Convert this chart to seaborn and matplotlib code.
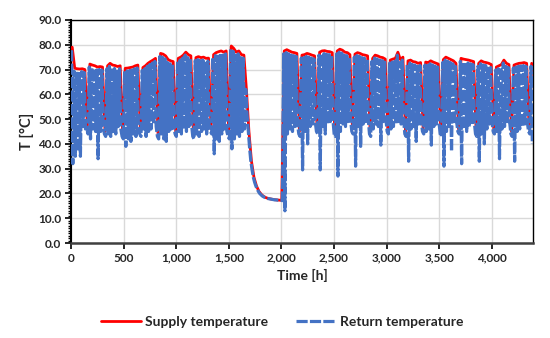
import matplotlib
matplotlib.use("Agg")
import matplotlib.pyplot as plt
from matplotlib.ticker import MultipleLocator, FuncFormatter
import seaborn as sns
import pandas as pd

# Supply temperature, one value per day (°C)
supply_daily = [
    79.0, 70.5, 70.3, 70.2, 70.3, 70.0, 47.0,
    72.2, 71.8, 71.5, 71.0, 71.2, 71.0, 45.0,
    71.5, 72.5, 71.8, 71.6, 71.2, 71.5, 44.0,
    70.5, 70.6, 70.8, 71.0, 71.5, 71.8, 45.0,
    70.8, 71.5, 72.5, 73.2, 73.8, 74.5, 44.0,
    76.5, 76.2, 75.5, 74.0, 73.5, 73.2, 45.0,
    74.5, 75.0, 75.8, 77.0, 76.0, 75.5, 44.0,
    74.8, 75.2, 74.8, 75.0, 74.5, 74.6, 46.0,
    76.0, 76.8, 77.2, 77.5, 77.0, 77.5, 44.0,
    79.5, 78.5, 77.0, 77.5, 76.0, 75.8,
    62.0, 45.0, 33.0, 26.5, 23.0, 20.8, 19.5, 18.7, 18.2, 17.9, 17.7, 17.5, 17.4, 17.3, 17.2,
    77.5, 78.0, 77.5, 77.0, 76.8, 76.5, 45.0,
    75.8, 76.0, 76.5, 76.2, 75.8, 75.5, 46.0,
    77.0, 77.5, 77.6, 77.3, 77.2, 76.8, 45.0,
    77.5, 78.2, 77.8, 77.0, 76.8, 76.0, 46.0,
    76.2, 76.8, 76.5, 76.0, 75.8, 75.5, 45.0,
    74.5, 75.8, 75.5, 75.0, 74.8, 74.2, 46.0,
    73.8, 74.2, 74.5, 77.0, 74.0, 75.0, 45.0,
    73.5, 73.8, 73.2, 73.0, 72.5, 72.8, 46.0,
    73.0, 72.8, 73.5, 73.0, 72.6, 72.2, 45.0,
    74.0, 75.0, 74.5, 74.0, 73.5, 72.5, 46.0,
    74.5, 74.2, 74.0, 73.8, 73.5, 73.2, 45.0,
    72.5, 73.5, 73.0, 72.8, 72.5, 72.0, 46.0,
    71.0, 71.5, 72.0, 73.8, 72.5, 72.0, 45.0,
    71.8, 72.2, 72.5, 72.6, 72.8, 72.5, 46.0,
    72.5,
]

# Return temperature, daily maximum (°C)
return_max = [
    77.8, 69.3, 69.1, 69.0, 69.1, 68.8, 46.0,
    71.0, 70.6, 70.3, 69.8, 70.0, 69.8, 44.0,
    70.3, 71.3, 70.6, 70.4, 70.0, 70.3, 43.0,
    69.3, 69.4, 69.6, 69.8, 70.3, 70.6, 44.0,
    69.6, 70.3, 71.3, 72.0, 72.6, 73.3, 43.0,
    75.3, 75.0, 74.3, 72.8, 72.3, 72.0, 44.0,
    73.3, 73.8, 74.6, 75.8, 74.8, 74.3, 43.0,
    73.6, 74.0, 73.6, 73.8, 73.3, 73.4, 45.0,
    74.8, 75.6, 76.0, 76.3, 75.8, 76.3, 43.0,
    78.3, 77.3, 75.8, 76.3, 74.8, 74.6,
    62.0, 45.0, 33.0, 26.5, 23.0, 20.8, 19.5, 18.7, 18.2, 17.9, 17.7, 17.5, 17.4, 17.3, 17.2,
    76.3, 76.8, 76.3, 75.8, 75.6, 75.3, 44.0,
    74.6, 74.8, 75.3, 75.0, 74.6, 74.3, 45.0,
    75.8, 76.3, 76.4, 76.1, 76.0, 75.6, 44.0,
    76.3, 77.0, 76.6, 75.8, 75.6, 74.8, 45.0,
    75.0, 75.6, 75.3, 74.8, 74.6, 74.3, 44.0,
    73.3, 74.6, 74.3, 73.8, 73.6, 73.0, 45.0,
    72.6, 73.0, 73.3, 75.8, 72.8, 73.8, 44.0,
    72.3, 72.6, 72.0, 71.8, 71.3, 71.6, 45.0,
    71.8, 71.6, 72.3, 71.8, 71.4, 71.0, 44.0,
    72.8, 73.8, 73.3, 72.8, 72.3, 71.3, 45.0,
    73.3, 73.0, 72.8, 72.6, 72.3, 72.0, 44.0,
    71.3, 72.3, 71.8, 71.6, 71.3, 70.8, 45.0,
    69.8, 70.3, 70.8, 72.6, 71.3, 70.8, 44.0,
    70.6, 71.0, 71.3, 71.4, 71.6, 71.3, 45.0,
    71.3,
]

# Return temperature, daily minimum (°C)
return_min = [
    32.0, 35.0, 37.0, 35.0, 47.0, 46.0, 44.0,
    42.0, 46.0, 45.0, 34.0, 45.0, 47.0, 43.0,
    44.0, 43.0, 45.0, 44.0, 47.0, 46.0, 42.0,
    39.0, 42.0, 41.0, 44.0, 43.0, 45.0, 43.0,
    46.0, 43.0, 45.0, 46.0, 48.0, 47.0, 42.0,
    44.0, 42.0, 41.0, 45.0, 46.0, 47.0, 43.0,
    45.0, 44.0, 46.0, 45.0, 47.0, 48.0, 42.0,
    44.0, 43.0, 45.0, 46.0, 44.0, 47.0, 44.0,
    36.0, 42.0, 41.0, 44.0, 46.0, 45.0, 42.0,
    38.0, 42.0, 44.0, 43.0, 45.0, 46.0,
    52.0, 38.5, 29.5, 24.5, 21.8, 20.0, 19.0, 18.4, 18.0, 17.8, 17.6, 17.4, 17.3, 17.2, 17.1,
    13.0, 44.0, 46.0, 45.0, 47.0, 48.0, 43.0,
    29.5, 45.0, 40.0, 47.0, 48.0, 49.0, 44.0,
    29.5, 47.0, 44.0, 48.0, 49.0, 50.0, 43.0,
    27.0, 45.0, 48.0, 47.0, 49.0, 50.0, 44.0,
    31.0, 47.0, 39.0, 48.0, 49.0, 50.0, 43.0,
    46.0, 48.0, 47.0, 39.5, 49.0, 50.0, 44.0,
    46.0, 47.0, 48.0, 49.0, 48.0, 50.0, 43.0,
    33.0, 46.0, 47.0, 41.0, 48.0, 49.0, 44.0,
    45.0, 46.0, 39.5, 47.0, 48.0, 49.0, 43.0,
    31.0, 45.0, 47.0, 37.0, 48.0, 49.0, 44.0,
    32.0, 46.0, 45.0, 47.0, 48.0, 49.0, 43.0,
    33.0, 44.0, 40.0, 46.0, 48.0, 49.0, 44.0,
    45.0, 34.0, 46.0, 47.0, 48.0, 49.0, 43.0,
    33.0, 45.0, 46.0, 47.0, 48.0, 49.0, 44.0,
    40.0,
]

# build long tables: supply at mid-day, return peak in the morning, trough in the afternoon
days = range(len(supply_daily))
df_supply = pd.DataFrame({"hour": [24 * d + 12 for d in days], "T": supply_daily})
ret_hours, ret_vals = [], []
for d in days:
    ret_hours += [24 * d + 6, 24 * d + 18]
    ret_vals += [return_max[d], return_min[d]]
df_return = pd.DataFrame({"hour": ret_hours, "T": ret_vals})

sns.set_style("white")
plt.rcParams["font.family"] = ["Lato", "DejaVu Sans"]
plt.rcParams["font.weight"] = "bold"

fig = plt.figure(figsize=(5.5, 3.38), dpi=100)
ax = fig.add_axes([0.129, 0.281, 0.840, 0.660])

sns.lineplot(data=df_supply, x="hour", y="T", ax=ax, color="#FF0000", lw=2.0,
             label="Supply temperature", zorder=3)
sns.lineplot(data=df_return, x="hour", y="T", ax=ax, color="#4472C4", lw=2.3,
             linestyle=(0, (3.5, 0.7)), label="Return temperature", zorder=4)

ax.set_xlim(0, 4392)
ax.set_ylim(0, 90)
ax.xaxis.set_major_locator(MultipleLocator(500))
ax.yaxis.set_major_locator(MultipleLocator(10))
ax.yaxis.set_minor_locator(MultipleLocator(1))
ax.xaxis.set_major_formatter(FuncFormatter(lambda v, p: f"{int(v):,}"))
ax.yaxis.set_major_formatter(FuncFormatter(lambda v, p: f"{v:.1f}"))
ax.grid(True, which="major", color="#D9D9D9", lw=1.0)
ax.set_axisbelow(True)

ax.tick_params(axis="both", which="major", labelsize=8.5, length=4, width=1.2,
               color="black", direction="out", pad=3)
ax.tick_params(axis="y", which="minor", length=2.5, width=1.0, color="black",
               direction="out", left=True)
ax.tick_params(left=True, bottom=True)
for lbl in ax.get_xticklabels() + ax.get_yticklabels():
    lbl.set_fontweight("bold")

for s in ["top", "right"]:
    ax.spines[s].set_color("black")
    ax.spines[s].set_linewidth(1.0)
ax.spines["left"].set_color("black")
ax.spines["left"].set_linewidth(1.5)
ax.spines["bottom"].set_color("#404040")
ax.spines["bottom"].set_linewidth(1.8)

ax.set_xlabel("Time [h]", fontsize=10, fontweight="bold", labelpad=4)
ax.set_ylabel("T [°C]", fontsize=10.5, fontweight="bold", labelpad=3)

ax.get_legend().remove()
h, l = ax.get_legend_handles_labels()
fig.legend(h, l, loc="center", bbox_to_anchor=(0.513, 0.047), ncol=2, frameon=False,
           prop={"size": 10, "weight": "bold"}, handlelength=2.9, columnspacing=2.0,
           handletextpad=0.3)

fig.savefig("out.png", dpi=100)
